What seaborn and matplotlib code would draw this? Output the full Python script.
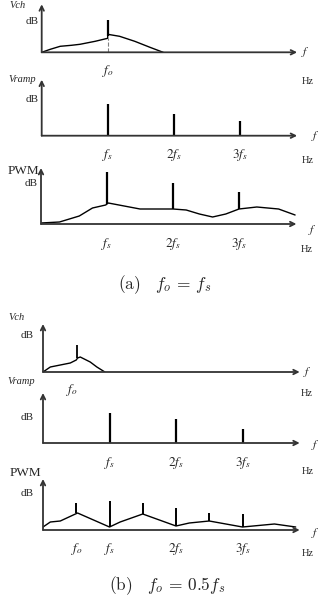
import matplotlib
matplotlib.use("Agg")
import matplotlib.pyplot as plt
import seaborn as sns

sns.set_style("white")
plt.rcParams['font.family'] = ['Liberation Serif', 'DejaVu Serif']

# frequency in units of fs, magnitude in arbitrary dB units
freq_labels = ["$f_s$", "$2f_s$", "$3f_s$"]
harmonics = [1, 2, 3]

# (a) fo = fs
a_vch_f = [0, 0.13, 0.28, 0.45, 0.58, 0.81, 1.0, 1.0, 1.18, 1.41, 1.64, 1.84]
a_vch_db = [0, 3, 6, 7, 8, 11, 14, 18, 16, 11, 5, 0]
a_vch_spike_f = [1.0]
a_vch_spike_lo = [16]
a_vch_spike_hi = [32]

a_ramp_db = [32, 22, 15]

a_pwm_f = [0, 0.28, 0.58, 0.78, 0.98, 1.02, 1.5, 2.0, 2.2, 2.4, 2.6, 2.8, 3.0, 3.27, 3.6, 3.85]
a_pwm_db = [1, 2, 8, 16, 19, 21, 15, 15, 14, 10, 7, 10, 15, 17, 15, 9]
a_pwm_spike_lo = [20, 15, 15]
a_pwm_spike_hi = [52, 41, 32]

# (b) fo = 0.5 fs
b_vch_f = [0, 0.11, 0.26, 0.41, 0.5, 0.52, 0.56, 0.71, 0.81, 0.93]
b_vch_db = [0, 5, 7, 9, 12, 14, 15, 10, 5, 0]
b_vch_spike_f = [0.51]
b_vch_spike_lo = [14]
b_vch_spike_hi = [27]

b_ramp_db = [30, 24, 14]

b_pwm_f = [0, 0.11, 0.26, 0.52, 1.0, 1.16, 1.5, 2.0, 2.2, 2.5, 3.0, 3.48, 3.8]
b_pwm_db = [3, 8, 9, 17, 3, 8, 16, 4, 7, 9, 3, 6, 3]
b_pwm_spike_f = [0.5, 1, 1.5, 2, 2.5, 3]
b_pwm_spike_lo = [17, 3, 16, 4, 9, 3]
b_pwm_spike_hi = [27, 29, 27, 22, 17, 16]

W, H = 320, 605
fig = plt.figure(figsize=(W / 100, H / 100), dpi=100)
AXC = '#333333'


def make_ax(ox, oy, ppf, xmax=4.0, ymax=65):
    ax = fig.add_axes([ox / W, (H - oy) / H, xmax * ppf / W, ymax / H])
    ax.set_xlim(0, xmax)
    ax.set_ylim(0, ymax)
    ax.set_xticks([])
    ax.set_yticks([])
    sns.despine(ax=ax, left=True, bottom=True)
    ax.patch.set_alpha(0)
    return ax


def axes_arrows(ax, xend, ytop):
    for tip in [(xend, 0), (0, ytop)]:
        ax.annotate('', xy=tip, xytext=(0, 0), annotation_clip=False,
                    arrowprops=dict(arrowstyle='->', lw=1.3, color=AXC,
                                    shrinkA=0, shrinkB=0, mutation_scale=8))


def side_text(ax, name, name_xy, name_size, name_style, db_xy, f_xy, hz_xy):
    ax.text(*name_xy, name, fontsize=name_size, style=name_style,
            ha='center', va='center', clip_on=False)
    ax.text(*db_xy, 'dB', fontsize=8, ha='center', va='center', clip_on=False)
    ax.text(*f_xy, '$f$', fontsize=8.5, ha='center', va='center', clip_on=False,
            math_fontfamily='stix')
    ax.text(*hz_xy, 'Hz', fontsize=7.5, ha='center', va='center', clip_on=False)


def tick_labels(ax, xs, labels, y):
    for x, lab in zip(xs, labels):
        ax.text(x, y, lab, fontsize=9.5, ha='center', va='center',
                clip_on=False, math_fontfamily='stix')


# ---------------- (a) ----------------
ax = make_ax(41.7, 52.3, 66)
axes_arrows(ax, 3.87, 48)
sns.lineplot(x=a_vch_f, y=a_vch_db, ax=ax, color='k', lw=1, sort=False, estimator=None)
ax.vlines(a_vch_spike_f, a_vch_spike_lo, a_vch_spike_hi, color='k', lw=1.6)
ax.vlines(a_vch_spike_f, 0, 14, color='gray', lw=0.8, linestyles='--')
side_text(ax, 'Vch', (-0.36, 47), 7.5, 'italic', (-0.15, 31), (3.99, 0), (4.03, -29))
tick_labels(ax, a_vch_spike_f, ['$f_o$'], -19)

ax = make_ax(41.7, 135.7, 66)
axes_arrows(ax, 3.87, 56)
ax.vlines(harmonics, 0, a_ramp_db, color='k', lw=1.6)
side_text(ax, 'Vramp', (-0.3, 56), 7.5, 'italic', (-0.15, 36), (4.14, 0), (4.03, -25))
tick_labels(ax, harmonics, freq_labels, -19)

ax = make_ax(41, 224, 66)
axes_arrows(ax, 3.87, 56)
sns.lineplot(x=a_pwm_f, y=a_pwm_db, ax=ax, color='k', lw=1, sort=False, estimator=None)
ax.vlines(harmonics, a_pwm_spike_lo, a_pwm_spike_hi, color='k', lw=1.6)
side_text(ax, 'PWM', (-0.27, 53), 9.5, 'normal', (-0.15, 41), (4.11, -6), (4.03, -25))
tick_labels(ax, harmonics, freq_labels, -20)

fig.text(165 / W, 1 - 285 / H, r'$\mathrm{(a)}\quad f_o\, =\, f_s$', fontsize=12.5,
         ha='center', va='center', math_fontfamily='cm')

# ---------------- (b) ----------------
ax = make_ax(43, 372, 66.5)
axes_arrows(ax, 3.86, 48)
sns.lineplot(x=b_vch_f, y=b_vch_db, ax=ax, color='k', lw=1, sort=False, estimator=None)
ax.vlines(b_vch_spike_f, b_vch_spike_lo, b_vch_spike_hi, color='k', lw=1.3)
side_text(ax, 'Vch', (-0.39, 54), 7.5, 'italic', (-0.24, 37), (3.97, 0), (3.97, -22))
tick_labels(ax, [0.44], ['$f_o$'], -18)

ax = make_ax(43, 443, 66.5)
axes_arrows(ax, 3.86, 50)
ax.vlines(harmonics, 0, b_ramp_db, color='k', lw=1.6)
side_text(ax, 'Vramp', (-0.33, 62), 7.5, 'italic', (-0.24, 26), (4.1, -2), (3.98, -29))
tick_labels(ax, harmonics, freq_labels, -20)

ax = make_ax(43, 530, 66.5)
axes_arrows(ax, 3.86, 51)
sns.lineplot(x=b_pwm_f, y=b_pwm_db, ax=ax, color='k', lw=1, sort=False, estimator=None)
ax.vlines(b_pwm_spike_f, b_pwm_spike_lo, b_pwm_spike_hi, color='k', lw=1.4)
side_text(ax, 'PWM', (-0.27, 57), 9.5, 'normal', (-0.24, 37), (4.1, -3), (3.98, -23))
tick_labels(ax, [0.51] + harmonics, ['$f_o$'] + freq_labels, -19)

fig.text(167 / W, 1 - 586 / H, r'$\mathrm{(b)}\quad f_o\, =\, 0.5f_s$', fontsize=12.5,
         ha='center', va='center', math_fontfamily='cm')

fig.savefig('out.png', dpi=100, facecolor='white')
